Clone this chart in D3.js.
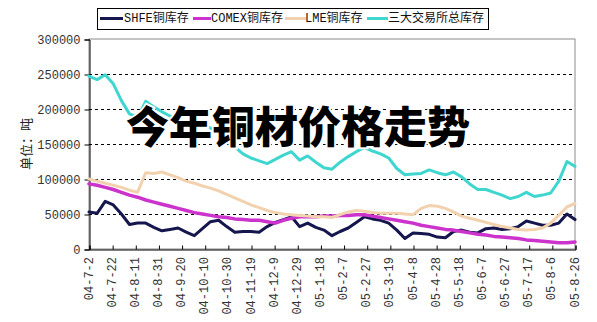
<!DOCTYPE html>
<html>
<head>
<meta charset="utf-8">
<script src="https://cdn.jsdelivr.net/npm/d3@7/dist/d3.min.js"></script>
<style>
  html, body { margin: 0; padding: 0; background: #fff; }
  svg { display: block; }
</style>
</head>
<body>
<svg id="chart" width="597" height="322"></svg>
<script>
// Weekly inventory dates (Fridays), 2004-07-02 .. 2005-08-26
const dates = [
  "2004-07-02","2004-07-09","2004-07-16","2004-07-23","2004-07-30","2004-08-06","2004-08-13","2004-08-20",
  "2004-08-27","2004-09-03","2004-09-10","2004-09-17","2004-09-24","2004-10-01","2004-10-08","2004-10-15",
  "2004-10-22","2004-10-29","2004-11-05","2004-11-12","2004-11-19","2004-11-26","2004-12-03","2004-12-10",
  "2004-12-17","2004-12-24","2004-12-31","2005-01-07","2005-01-14","2005-01-21","2005-01-28","2005-02-04",
  "2005-02-11","2005-02-18","2005-02-25","2005-03-04","2005-03-11","2005-03-18","2005-03-25","2005-04-01",
  "2005-04-08","2005-04-15","2005-04-22","2005-04-29","2005-05-06","2005-05-13","2005-05-20","2005-05-27",
  "2005-06-03","2005-06-10","2005-06-17","2005-06-24","2005-07-01","2005-07-08","2005-07-15","2005-07-22",
  "2005-07-29","2005-08-05","2005-08-12","2005-08-19","2005-08-26"
];

// Stocks in tonnes
const shfe = [
  53000,51000,68000,63000,50000,35000,37000,37000,31000,26000,28000,30000,24000,19000,29000,39000,
  41000,32000,24000,25000,25000,24000,32000,38000,42000,46000,32000,37000,31000,27000,19000,25000,
  30000,38000,46000,43000,41000,37000,27000,15000,23000,22000,21000,17000,16000,25000,27000,24000,
  23000,29000,30000,28000,29000,32000,40000,37000,34000,34000,37000,50000,42000
];
const comex = [
  93000,91000,88000,85000,81000,77000,74000,70000,67000,64000,61000,58000,55000,52000,50000,48000,
  46000,45000,43000,42000,41000,41000,39000,37000,41000,44000,46000,46000,46000,47000,47000,48000,
  48000,49000,49000,47000,45000,43000,41000,39000,37000,34000,32000,30000,28000,27000,25000,23000,
  21000,20000,18000,17000,16000,15000,13000,12000,11000,10000,9000,9000,10000
];
const lme = [
  100000,97000,94000,91000,88000,84000,81000,109000,108000,110000,106000,102000,97000,94000,90000,87000,
  83000,78000,73000,68000,63000,59000,55000,52000,50000,49000,48000,47000,46000,46000,45000,49000,
  53000,55000,54000,52000,51000,51000,51000,50000,49000,58000,62000,61000,58000,53000,47000,44000,
  41000,38000,35000,32000,30000,28000,27000,28000,30000,37000,48000,60000,65000
];
const total = [
  247000,242000,249000,236000,212000,193000,188000,211000,203000,196000,190000,185000,182000,178000,176000,173000,
  165000,155000,146000,136000,130000,126000,122000,128000,134000,139000,127000,133000,124000,116000,114000,124000,
  132000,139000,145000,140000,136000,130000,115000,106000,107000,108000,113000,109000,106000,110000,103000,93000,
  85000,85000,81000,77000,72000,75000,81000,75000,77000,80000,97000,125000,118000
];

const seriesNames = ["SHFE铜库存", "COMEX铜库存", "LME铜库存", "三大交易所总库存"];
const seriesColors = ["#16164e", "#cc33cc", "#f2d2ae", "#3fd6cf"];
const seriesWidths = [3, 3.5, 3, 3];

const yTicks = [0, 50000, 100000, 150000, 200000, 250000, 300000];
const xTickLabels = [
  "04-7-2","04-7-22","04-8-11","04-8-31","04-9-20","04-10-10","04-10-30","04-11-19","04-12-9","04-12-29",
  "05-1-18","05-2-7","05-2-27","05-3-19","05-4-8","05-4-28","05-5-18","05-6-7","05-6-27","05-7-17",
  "05-8-6","05-8-26"
];

const titleText = "今年铜材价格走势";
const yAxisTitle = "单位：吨";

// ---- layout ----
const plot = { left: 89, right: 575, top: 39, bottom: 249 };
const svg = d3.select("#chart");
const parse = d3.timeParse("%Y-%m-%d");
const parseTick = d3.timeParse("%y-%m-%d");
const dateObjs = dates.map(parse);
const tickDates = xTickLabels.map(parseTick);

const x = d3.scaleTime()
  .domain([dateObjs[0], dateObjs[dateObjs.length - 1]])
  .range([plot.left, plot.right]);
const y = d3.scaleLinear().domain([0, 300000]).range([plot.bottom, plot.top]);

// outer frame (top/right)
svg.append("rect")
  .attr("x", plot.left).attr("y", plot.top)
  .attr("width", plot.right - plot.left).attr("height", plot.bottom - plot.top)
  .attr("fill", "none").attr("stroke", "#8a8a8a").attr("stroke-width", 1);

// dashed gridlines
svg.append("g").selectAll("line")
  .data(yTicks.filter(v => v > 0 && v < 300000))
  .join("line")
  .attr("x1", plot.left).attr("x2", plot.right)
  .attr("y1", d => Math.round(y(d)) + 0.5).attr("y2", d => Math.round(y(d)) + 0.5)
  .attr("stroke", "#000").attr("stroke-width", 1).attr("stroke-dasharray", "3,3");

// y axis
const yAxis = d3.axisLeft(y).tickValues(yTicks).tickSize(5).tickPadding(4)
  .tickFormat(d3.format("d"));
const gy = svg.append("g").attr("transform", `translate(${plot.left + 0.5},0.5)`).call(yAxis);
gy.select(".domain").attr("stroke", "#000");
gy.selectAll(".tick line").attr("stroke", "#000");
gy.selectAll(".tick text")
  .attr("font-family", "'Liberation Mono', monospace")
  .attr("font-size", 12).attr("fill", "#333");

// x axis (ticks point inward)
const xAxis = d3.axisBottom(x).tickValues(tickDates).tickSize(-4).tickFormat("");
const gx = svg.append("g").attr("transform", `translate(0.5,${plot.bottom + 0.5})`).call(xAxis);
gx.select(".domain").attr("stroke", "#000");
gx.selectAll(".tick line").attr("stroke", "#000");

svg.append("g").selectAll("text")
  .data(xTickLabels)
  .join("text")
  .attr("transform", (d, i) => `translate(${x(tickDates[i]) + 0.5},257) rotate(-90)`)
  .attr("text-anchor", "end")
  .attr("dominant-baseline", "central")
  .attr("font-family", "'Liberation Mono', monospace")
  .attr("font-size", 12).attr("fill", "#333")
  .text(d => d);

// y axis title
svg.append("text")
  .attr("transform", "translate(25,144) rotate(-90)")
  .attr("text-anchor", "middle")
  .attr("dominant-baseline", "central")
  .attr("font-family", "'Noto Sans CJK SC', sans-serif")
  .attr("font-size", 13).attr("fill", "#222")
  .text(yAxisTitle);

// series lines
const seriesData = [shfe, comex, lme, total];
const line = d3.line().x((d, i) => x(dateObjs[i])).y(d => y(d));
svg.append("g").selectAll("path")
  .data(seriesData)
  .join("path")
  .attr("d", d => line(d))
  .attr("fill", "none")
  .attr("stroke", (d, i) => seriesColors[i])
  .attr("stroke-width", (d, i) => seriesWidths[i])
  .attr("stroke-linejoin", "round")
  .attr("stroke-linecap", "round");

// legend
const legendBox = { x: 97, y: 8, w: 391, h: 21 };
svg.append("rect")
  .attr("x", legendBox.x + 0.5).attr("y", legendBox.y + 0.5)
  .attr("width", legendBox.w).attr("height", legendBox.h)
  .attr("fill", "#fff").attr("stroke", "#000");
const legendLineX = [[100, 123], [193, 211], [285, 306], [367, 388]];
const legendTextX = [124, 211, 305, 388];
const lg = svg.append("g");
seriesNames.forEach((name, i) => {
  lg.append("line")
    .attr("x1", legendLineX[i][0]).attr("x2", legendLineX[i][1])
    .attr("y1", 18.5).attr("y2", 18.5)
    .attr("stroke", seriesColors[i]).attr("stroke-width", 3);
  lg.append("text")
    .attr("x", legendTextX[i]).attr("y", 18.5)
    .attr("dominant-baseline", "central")
    .attr("font-family", "'Liberation Mono', 'Noto Sans CJK SC', monospace")
    .attr("font-size", 12).attr("fill", "#111")
    .text(name);
});

// overlaid headline
svg.append("text")
  .attr("x", 298).attr("y", 124)
  .attr("text-anchor", "middle")
  .attr("dominant-baseline", "central")
  .attr("font-family", "'Noto Sans CJK SC', sans-serif")
  .attr("font-weight", 900)
  .attr("font-size", 43)
  .attr("fill", "#000")
  .attr("stroke", "#fff").attr("stroke-width", 4)
  .attr("paint-order", "stroke")
  .text(titleText);
</script>
</body>
</html>
